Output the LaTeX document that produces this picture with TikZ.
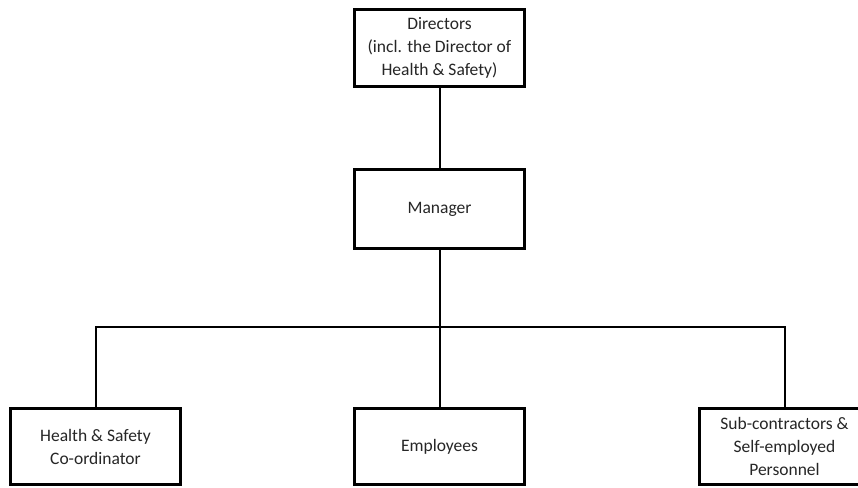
\documentclass[tikz,border=0pt]{standalone}
\usepackage{fontspec}
\setmainfont{Carlito}
\usetikzlibrary{calc}
\definecolor{TextClr}{rgb}{0.15,0.15,0.15}

\tikzset{
  role/.style={draw=black,line width=3pt,fill=white,text=TextClr,
    minimum width=170pt,inner sep=0pt,align=center,
    font=\fontsize{17.5pt}{23pt}\selectfont},
  link/.style={draw=black,line width=2pt}
}

\begin{document}
\begin{tikzpicture}[x=1pt,y=-1pt]
\useasboundingbox (0,0) rectangle (858,487);

\node[role,minimum height=77pt] (dir) at (439.5,48)
  {Directors\\(incl. the Director of\\Health \& Safety)};
\node[role,minimum height=79pt] (mgr) at (439.5,209) {Manager};

\node[role,minimum height=76pt] (hs) at (95.5,446.5) {Health \& Safety\\Co-ordinator};
\node[role,minimum height=76pt] (emp) at (439.5,446.5) {Employees};
\node[role,minimum height=76pt] (sub) at (784.5,446.5)
  {Sub-contractors \&\\Self-employed\\Personnel};

\coordinate (bus) at (439.5,327);

\draw[link] (dir.south) -- (mgr.north);
\draw[link] (mgr.south) -- (emp.north);
\draw[link] (hs.north) |- (bus) -| (sub.north);

\end{tikzpicture}
\end{document}
